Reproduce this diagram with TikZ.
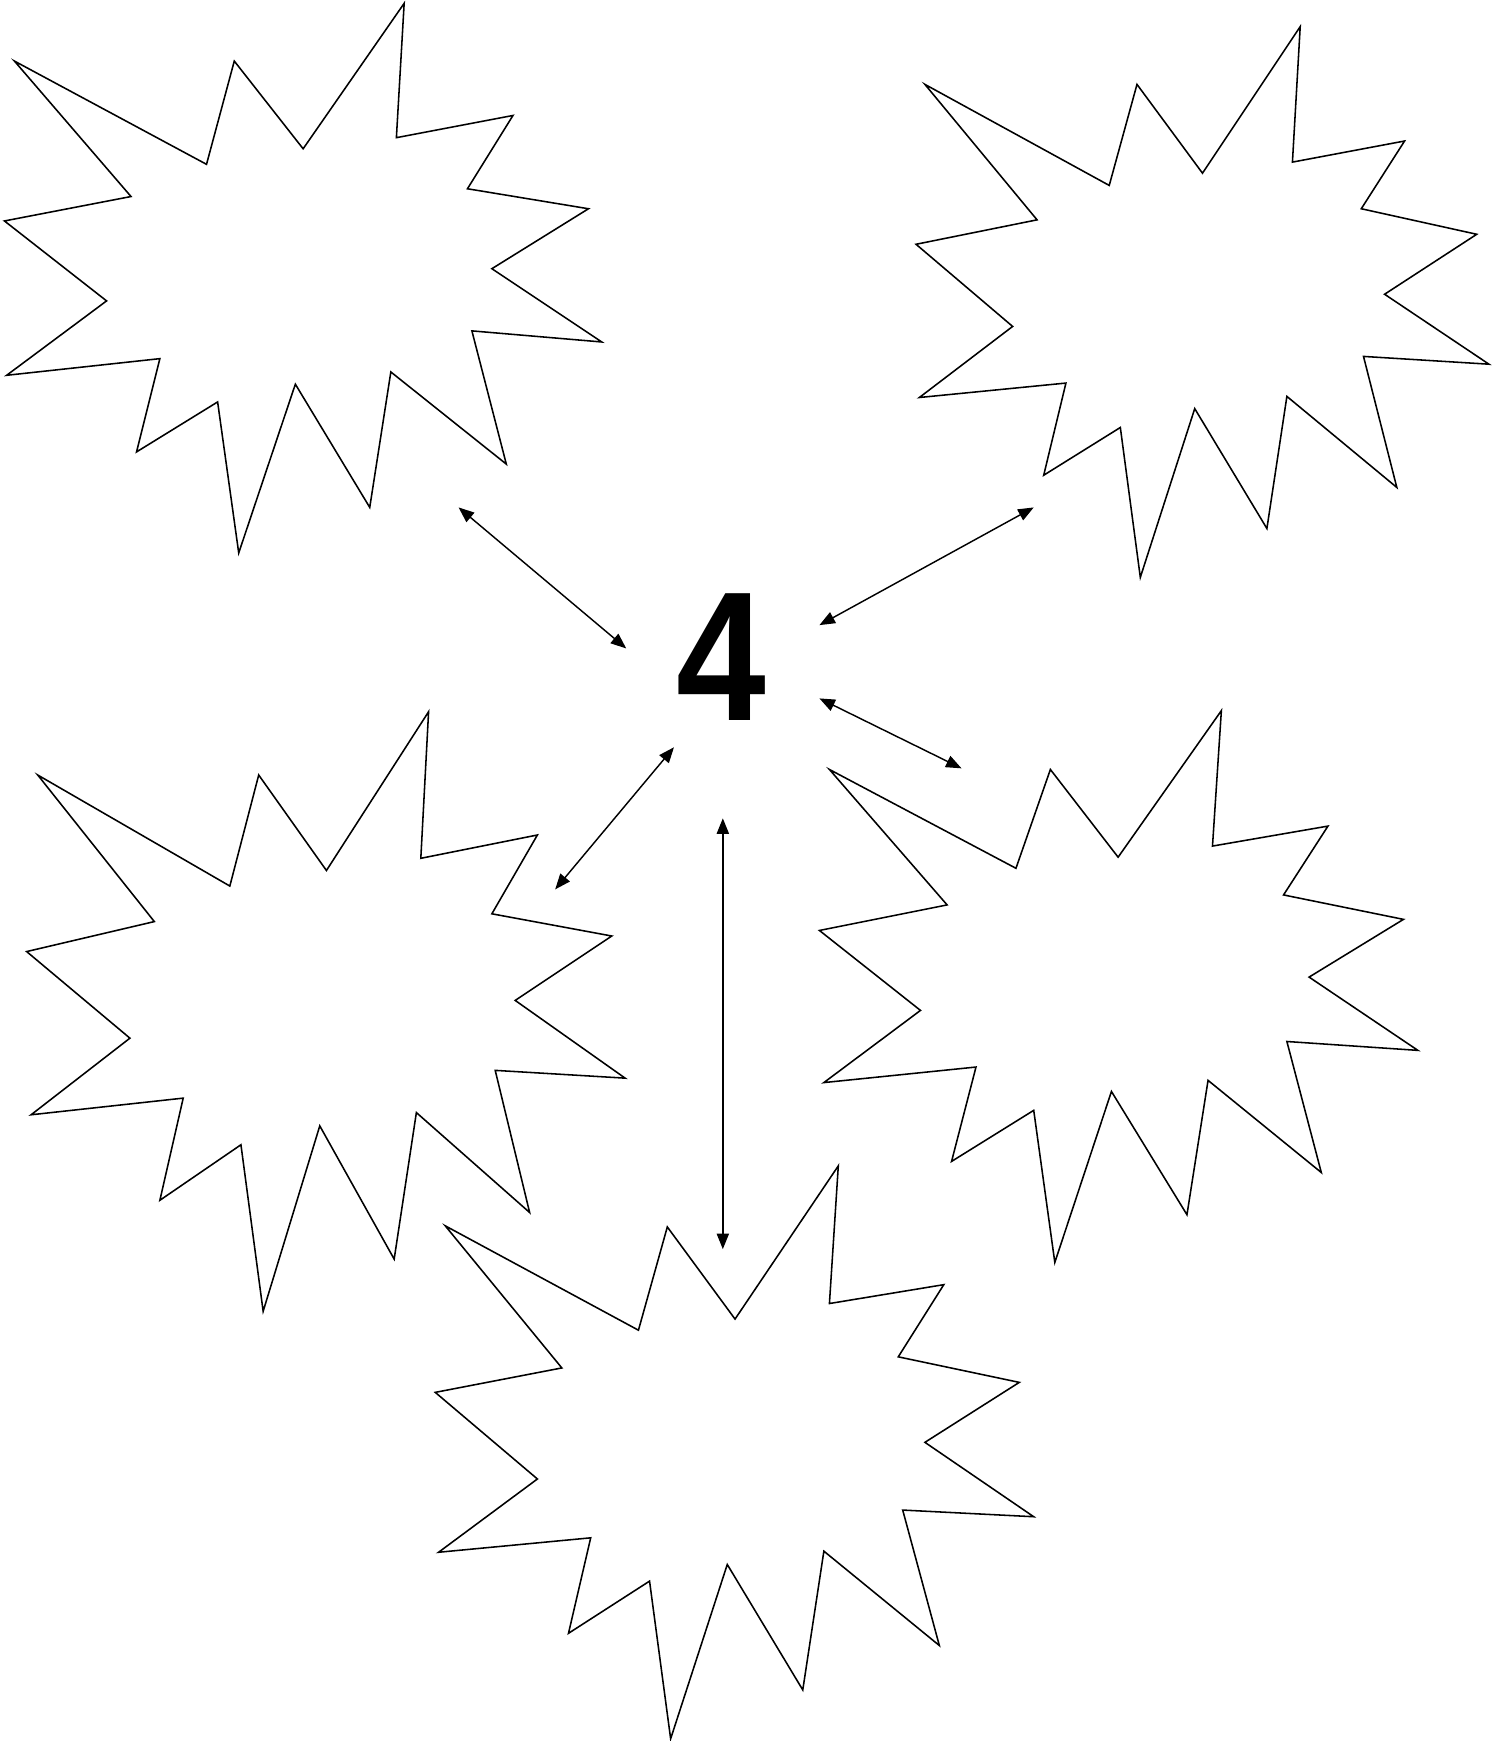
\documentclass[tikz,border=0pt]{standalone}
\usepackage{fontspec}
\setmainfont{Liberation Sans}
\usetikzlibrary{arrows.meta}
\tikzset{
  burst/.style={draw=black, line width=1.4pt, line join=miter, fill=white},
  link/.style={line width=1.3pt, {Triangle[length=14pt,width=11pt]}-{Triangle[length=14pt,width=11pt]}},
}
\begin{document}
\begin{tikzpicture}[x=1pt,y=-1pt]
\useasboundingbox[fill=white] (0,0) rectangle (1355,1568);
% top-left burst
\draw[burst] (13,55) -- (186,148) -- (211,55) -- (273,134) -- (364,3) -- (357,124) -- (462,104) -- (421,170) -- (530,188) -- (443,242) -- (542,308) -- (425,298) -- (456,418) -- (352,335) -- (333,457) -- (266,346) -- (215,498) -- (196,362) -- (123,407) -- (144,323) -- (6,338) -- (96,271) -- (4,199) -- (118,177) -- cycle;
% top-right burst
\draw[burst] (833,76) -- (999,167) -- (1024,76) -- (1083,156) -- (1171,24) -- (1164,146) -- (1265,127) -- (1226,188) -- (1330,211) -- (1247,265) -- (1341,328) -- (1228,321) -- (1258,439) -- (1159,357) -- (1141,476) -- (1076,368) -- (1027,520) -- (1009,385) -- (940,428) -- (960,345) -- (828,358) -- (912,294) -- (825,220) -- (934,198) -- cycle;
% middle-left burst
\draw[burst] (34,698) -- (207,798) -- (233,698) -- (294,784) -- (386,641) -- (379,773) -- (484,752) -- (443,823) -- (551,843) -- (464,901) -- (563,971) -- (446,964) -- (477,1092) -- (375,1002) -- (355,1134) -- (288,1014) -- (237,1181) -- (217,1031) -- (144,1081) -- (165,989) -- (28,1004) -- (117,935) -- (24,857) -- (139,830) -- cycle;
% middle-right burst
\draw[burst] (747,693) -- (915,782) -- (946,693) -- (1007,772) -- (1100,640) -- (1092,762) -- (1196,744) -- (1156,806) -- (1264,828) -- (1179,880) -- (1277,946) -- (1159,938) -- (1190,1056) -- (1088,973) -- (1069,1094) -- (1001,983) -- (950,1137) -- (931,1000) -- (857,1046) -- (879,961) -- (742,975) -- (829,910) -- (738,838) -- (853,815) -- cycle;
% bottom burst
\draw[burst] (401,1104) -- (575,1198) -- (601,1105) -- (662,1188) -- (755,1050) -- (747,1174) -- (850,1157) -- (809,1222) -- (918,1245) -- (833,1299) -- (931,1366) -- (813,1360) -- (846,1482) -- (742,1397) -- (723,1522) -- (655,1409) -- (604,1566) -- (585,1424) -- (512,1471) -- (532,1385) -- (395,1398) -- (484,1332) -- (392,1254) -- (506,1232) -- cycle;
% centre label
\node[font=\bfseries\fontsize{166}{166}\selectfont, inner sep=0pt] (four) at (650,592) {\scalebox{0.875}[1]{4}};
% connector ends
\coordinate (tlA) at (413,457);
\coordinate (tlB) at (564,584);
\coordinate (trA) at (931,457);
\coordinate (trB) at (738,563);
\coordinate (mrA) at (738,629);
\coordinate (mrB) at (866,692);
\coordinate (mlA) at (607,673);
\coordinate (mlB) at (500,801);
\coordinate (btA) at (651,737);
\coordinate (btB) at (651,1125);
\draw[link] (tlA) -- (tlB);
\draw[link] (trA) -- (trB);
\draw[link] (mrA) -- (mrB);
\draw[link] (mlA) -- (mlB);
\draw[link] (btA) -- (btB);
\end{tikzpicture}
\end{document}
